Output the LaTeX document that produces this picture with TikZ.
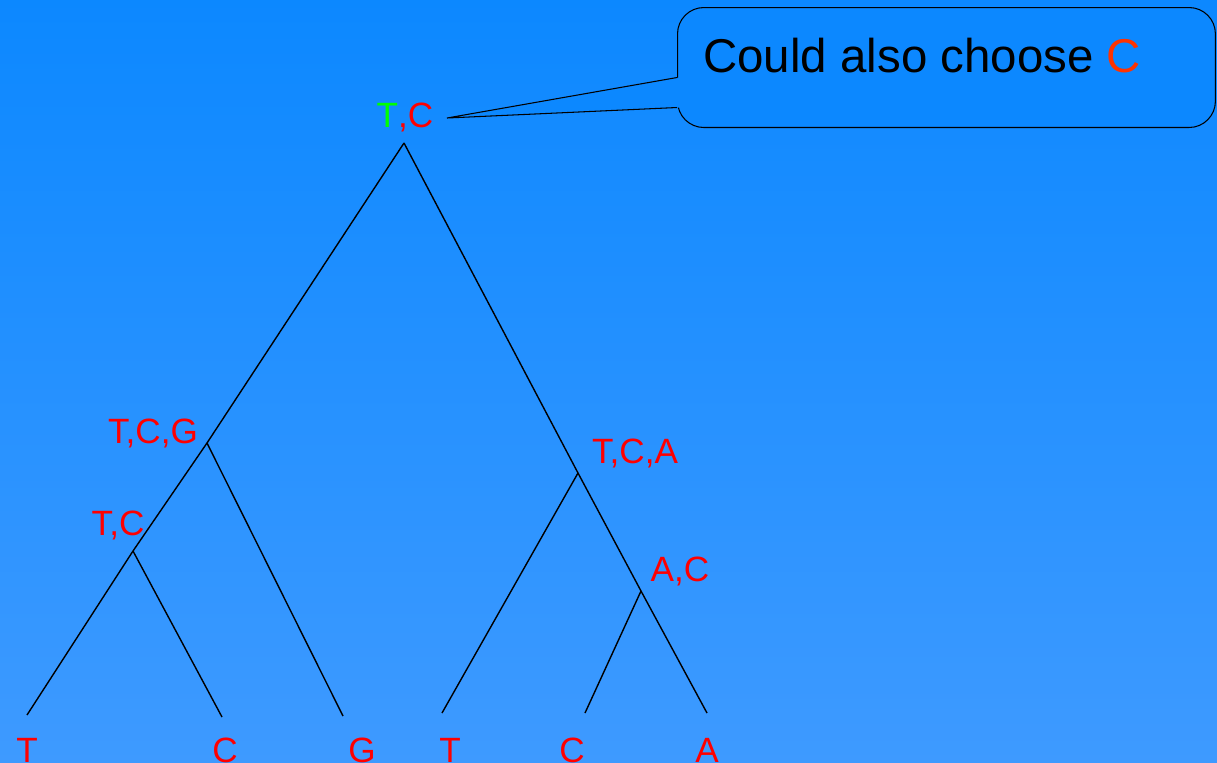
\documentclass[tikz,border=0pt]{standalone}
\usepackage{fontspec}
\setmainfont{Liberation Sans}
\usetikzlibrary{calc}
\definecolor{bgtop}{RGB}{12,136,255}
\definecolor{bgbot}{RGB}{62,154,255}
\definecolor{lblred}{RGB}{255,0,0}
\definecolor{lblgreen}{RGB}{0,255,0}
\definecolor{noteorange}{RGB}{255,51,0}

\begin{document}
\begin{tikzpicture}[x=0.02cm,y=-0.02cm,
  lbl/.style={text=lblred,font=\fontsize{20}{24}\selectfont,inner sep=0pt,anchor=base},
  edge/.style={line width=0.8pt}]
\useasboundingbox (0,0) rectangle (1217,762);
\shade[top color=bgtop,bottom color=bgbot] (0,0) rectangle (1217,762);

% branch points of the tree
\coordinate (root) at (404,143);
\coordinate (tcg) at (207,443);
\coordinate (tc) at (133,551);
\coordinate (tca) at (578,473);
\coordinate (ac) at (641,591);
% leaf ends
\coordinate (l1) at (27,715);
\coordinate (l2) at (222,717);
\coordinate (l3) at (343,716);
\coordinate (l4) at (442,713);
\coordinate (l5) at (585,713);
\coordinate (l6) at (707,713);

\draw[edge] (root) -- (tcg) -- (tc) -- (l1);
\draw[edge] (tc) -- (l2);
\draw[edge] (tcg) -- (l3);
\draw[edge] (root) -- (tca) -- (ac) -- (l6);
\draw[edge] (tca) -- (l4);
\draw[edge] (ac) -- (l5);

% sets at the inner nodes
\node[lbl] (rootlbl) at (405,127) {\textcolor{lblgreen}{T},C};
\node[lbl] (tcglbl) at (153,443) {T,C,G};
\node[lbl] (tclbl) at (118,535) {T,C};
\node[lbl] (tcalbl) at (635,463) {T,C,A};
\node[lbl] (aclbl) at (680,581) {A,C};

% leaves
\node[lbl] (t1) at (27,762) {T};
\node[lbl] (t2) at (225,762) {C};
\node[lbl] (t3) at (362,762) {G};
\node[lbl] (t4) at (450,762) {T};
\node[lbl] (t5) at (572,762) {C};
\node[lbl] (t6) at (707,762) {A};

% callout
\node[draw,fill=bgtop,rounded corners=15,line width=0.6pt,minimum width=10.76cm,
  minimum height=2.4cm,anchor=north west] (note) at (677,7) {};
\coordinate (tip) at (447,118);
\coordinate (pa) at ($(note.west)+(0,10)$);
\coordinate (pb) at ($(note.west)+(0,40)$);
\fill[bgtop] ($(pa)+(2,0)$) -- (tip) -- ($(pb)+(2,0)$) -- cycle;
\draw[line width=0.6pt] (pa) -- (tip) -- (pb);
\node[anchor=base west,inner sep=0pt,font=\fontsize{27}{32}\selectfont] (notetext)
  at ($(note.north west)+(26,65)$) {Could also choose \textcolor{noteorange}{C}};
\end{tikzpicture}
\end{document}
